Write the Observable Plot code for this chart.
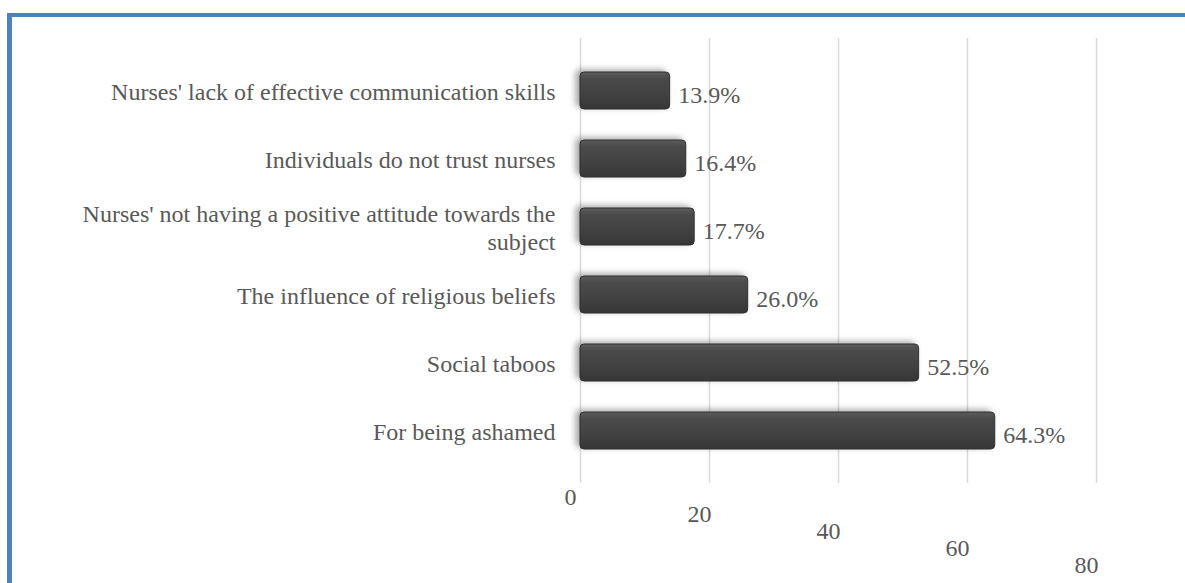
<!DOCTYPE html>
<html>
<head>
<meta charset="utf-8">
<script src="https://cdn.jsdelivr.net/npm/d3@7"></script>
<script src="https://cdn.jsdelivr.net/npm/@observablehq/plot@0.6"></script>
<style>
  html, body { margin: 0; padding: 0; background: #fff; }
  #wrap { position: relative; width: 1185px; height: 583px; overflow: hidden; }
  #frame { position: absolute; left: 7px; top: 13px; width: 1200px; height: 600px;
           border-left: 5px solid #4f81bd; border-top: 4px solid #4f81bd; pointer-events: none; }
  #chart { position: absolute; left: 0; top: 0; }
</style>
</head>
<body>
<div id="wrap">
  <div id="chart"></div>
  <div id="frame"></div>
</div>
<script>
// Categories from top to bottom
const categories = [
  "Nurses' lack of effective communication skills",
  "Individuals do not trust nurses",
  "Nurses' not having a positive attitude towards the subject",
  "The influence of religious beliefs",
  "Social taboos",
  "For being ashamed"
];
// Displayed labels (line breaks as in the reference)
const categoryLabels = [
  "Nurses' lack of effective communication skills",
  "Individuals do not trust nurses",
  "Nurses' not having a positive attitude towards the\nsubject",
  "The influence of religious beliefs",
  "Social taboos",
  "For being ashamed"
];
const values = [13.9, 16.4, 17.7, 26.0, 52.5, 64.3];
const xTicks = [0, 20, 40, 60, 80];

const data = categories.map((c, i) => ({category: c, label: categoryLabels[i], value: values[i]}));
const labelOf = new Map(data.map(d => [d.category, d.label]));

const textColor = "#595959";
const font = "'Liberation Serif', 'Times New Roman', serif";

const plot = Plot.plot({
  width: 1185,
  height: 583,
  marginLeft: 580,
  marginRight: 89,
  marginTop: 38,
  marginBottom: 100,
  style: { fontFamily: font, fontSize: "24px", color: textColor, background: "transparent", overflow: "visible" },
  x: { domain: [0, 80], ticks: xTicks, label: null },
  y: { domain: categories, padding: 0.46, label: null },
  marks: [
    Plot.ruleX(xTicks, { stroke: "#d9d9d9", strokeWidth: 1.5 }),
    Plot.barX(data, {
      x: "value", y: "category",
      fill: "url(#barGrad)", stroke: "#2f2f2f", strokeWidth: 1,
      rx: 4
    }),
    Plot.text(data, {
      x: "value", y: "category",
      text: d => d.value.toFixed(1) + "%",
      textAnchor: "start", dx: 8, dy: 4,
      fill: textColor, fontSize: 24
    }),
    Plot.axisY({
      tickSize: 0, tickPadding: 25,
      tickFormat: d => labelOf.get(d),
      lineHeight: 1.15,
      fill: textColor, fontSize: 24,
      textOverflow: null, lineWidth: 40
    }),
    Plot.axisX(xTicks, {
      tickSize: 0, tickPadding: 0, dx: -10, dy: 0,
      fill: textColor, fontSize: 24
    })
  ]
});

document.getElementById("chart").appendChild(plot);

// gradient & shading for the bars (styling only)
const svg = d3.select(plot);
const defs = svg.insert("defs", ":first-child");
const g = defs.append("linearGradient").attr("id", "barGrad").attr("x1", 0).attr("y1", 0).attr("x2", 0).attr("y2", 1);
g.append("stop").attr("offset", "0%").attr("stop-color", "#5c5c5c");
g.append("stop").attr("offset", "18%").attr("stop-color", "#4a4a4a");
g.append("stop").attr("offset", "60%").attr("stop-color", "#424242");
g.append("stop").attr("offset", "100%").attr("stop-color", "#363636");
svg.selectAll("g[aria-label='bar'] rect")
  .style("filter", "drop-shadow(-4px -2px 3px rgba(0,0,0,0.35))");

// emulate the receding floor: lower each x tick label progressively, using the x scale
const xs = plot.scale("x");
const k = 0.133;
svg.selectAll("g[aria-label='x-axis tick label'] text").each(function(d) {
  const el = d3.select(this);
  const t = el.attr("transform") || "";
  const m = /translate\(([-\d.]+),\s*([-\d.]+)\)/.exec(t);
  if (m) {
    const x = +m[1], y = +m[2];
    const shift = 4 + (x - xs.apply(0)) * k;
    el.attr("transform", `translate(${x},${y + shift})`);
  }
});
</script>
</body>
</html>
